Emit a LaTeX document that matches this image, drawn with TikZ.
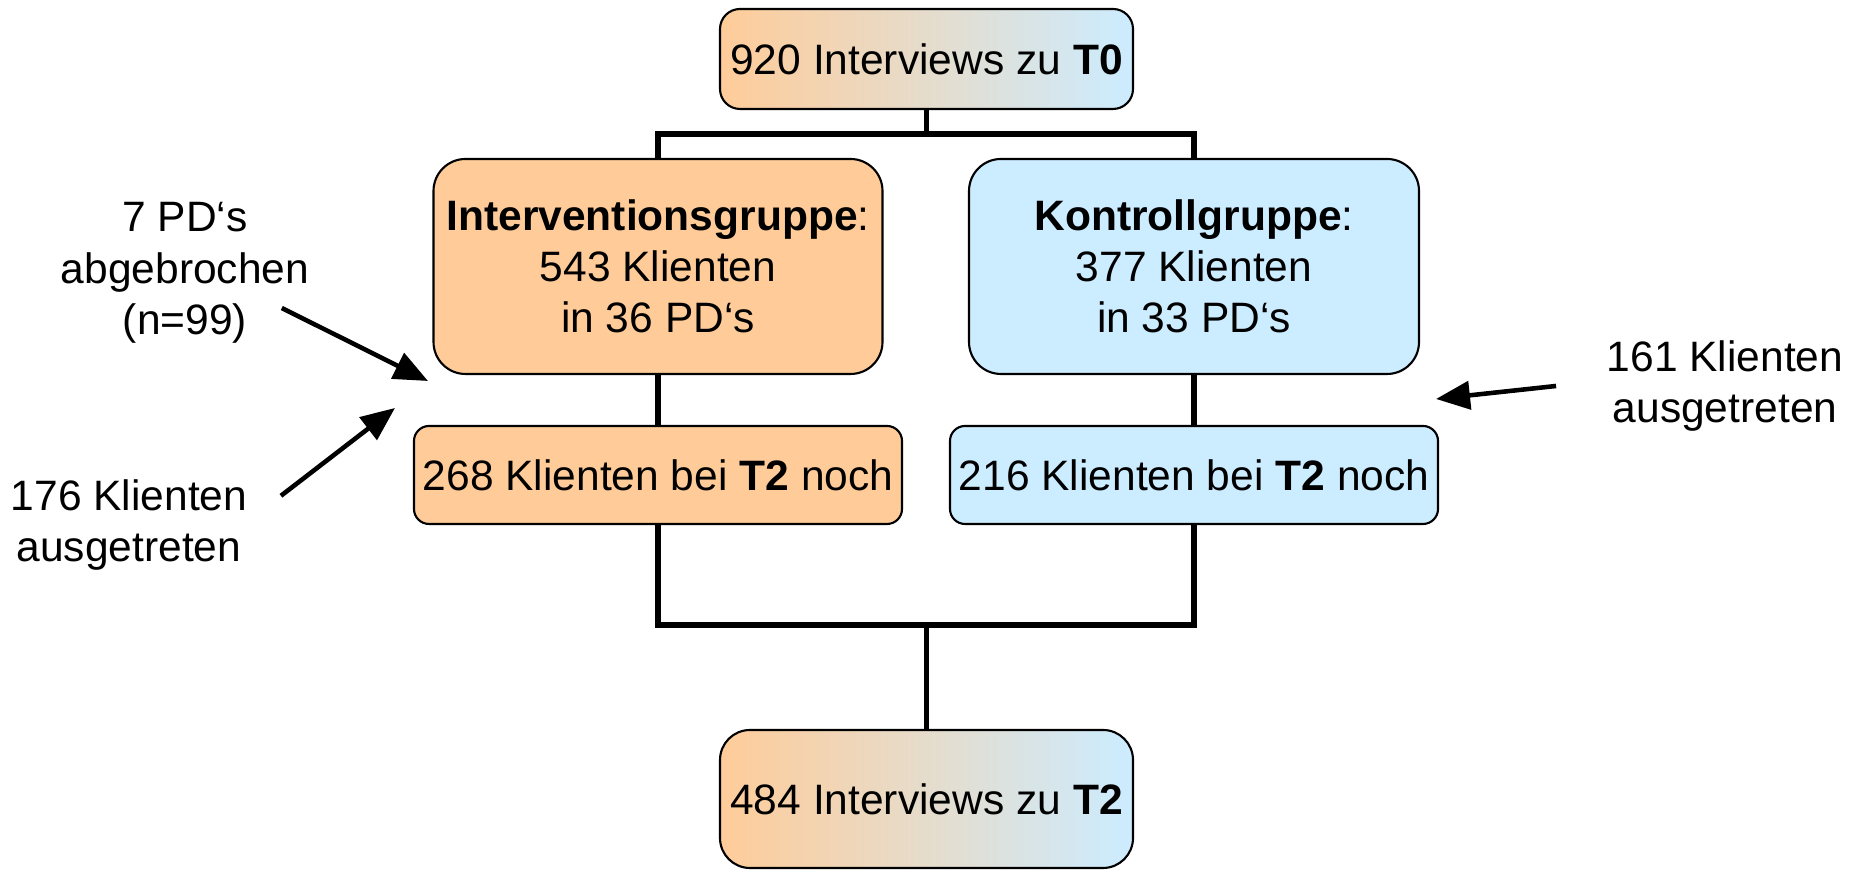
\documentclass[tikz,border=0pt]{standalone}
\usepackage{fontspec}
\setmainfont{Liberation Sans}
\definecolor{peach}{RGB}{255,204,153}
\definecolor{skyblue}{RGB}{204,236,255}
\usetikzlibrary{arrows.meta}

\begin{document}
\begin{tikzpicture}[
    txt/.style={font=\fontsize{12.1}{14.6}\selectfont, align=center, inner sep=0pt},
    box/.style={txt, draw=black, line width=0.6pt, rounded corners=#1},
    box/.default=0.2cm,
    link/.style={line width=1.5pt},
    pfeil/.style={-{Triangle[length=3.4mm,width=2.8mm]}, line width=1.3pt}
]
    \useasboundingbox (0,0) rectangle (18.56,8.70);

    %% Interviews at the start
    \node[box, left color=peach, right color=skyblue, minimum width=4.13cm, minimum height=1.0cm] (t0) at (9.265,8.11) {920 Interviews zu \textbf{T0}};

    %% the two groups
    \node[box=0.32cm, fill=peach, minimum width=4.49cm, minimum height=2.15cm] (ig) at (6.58,6.035) {\textbf{Interventionsgruppe}:\\543 Klienten\\in 36 PD‘s};
    \node[box=0.32cm, fill=skyblue, minimum width=4.50cm, minimum height=2.15cm] (kg) at (11.94,6.035) {\textbf{Kontrollgruppe}:\\377 Klienten\\in 33 PD‘s};

    %% left at T2
    \node[box=0.15cm, fill=peach, minimum width=4.88cm, minimum height=0.98cm] (ig2) at (6.58,3.95) {268 Klienten bei \textbf{T2} noch};
    \node[box=0.15cm, fill=skyblue, minimum width=4.88cm, minimum height=0.98cm] (kg2) at (11.94,3.95) {216 Klienten bei \textbf{T2} noch};

    %% Interviews at the end
    \node[box=0.3cm, left color=peach, right color=skyblue, minimum width=4.13cm, minimum height=1.38cm] (t2) at (9.265,0.71) {484 Interviews zu \textbf{T2}};

    %% tree lines
    \coordinate (split0) at (9.265,7.36);
    \coordinate (split2) at (9.265,2.45);
    \draw[link] (t0.south) -- (split0);
    \draw[link] (ig.north) |- (split0) -| (kg.north);
    \draw[link] (ig) -- (ig2);
    \draw[link] (kg) -- (kg2);
    \draw[link] (ig2.south) |- (split2) -| (kg2.south);
    \draw[link] (split2) -- (t2.north);

    %% drop-outs
    \node[txt] (lost1) at (1.85,5.97) {7 PD‘s\\abgebrochen\\(n=99)};
    \node[txt] (lost2) at (1.29,3.45) {176 Klienten\\ausgetreten};
    \node[txt] (lost3) at (17.25,4.84) {161 Klienten\\ausgetreten};

    \coordinate (hit1) at (4.28,4.89);
    \coordinate (hit2) at (3.95,4.62);
    \coordinate (hit3) at (14.36,4.71);
    \draw[pfeil] ([xshift=-0.28cm,yshift=0.36cm]lost1.south east) -- (hit1);
    \draw[pfeil] ([xshift=0.33cm,yshift=-0.17cm]lost2.north east) -- (hit2);
    \draw[pfeil] ([xshift=-0.50cm]lost3.west) -- (hit3);

\end{tikzpicture}
\end{document}
